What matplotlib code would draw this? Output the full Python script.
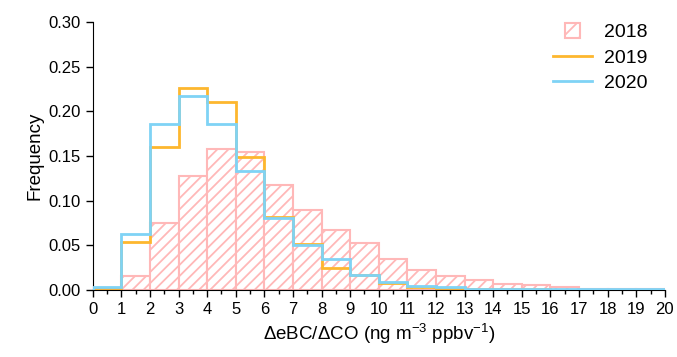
import numpy as np
import matplotlib.pyplot as plt
from matplotlib.patches import Patch, Rectangle
from matplotlib.lines import Line2D
from matplotlib.legend_handler import HandlerPatch

plt.rcParams['font.family'] = ['Liberation Sans', 'DejaVu Sans']
plt.rcParams['mathtext.default'] = 'regular'
plt.rcParams['hatch.linewidth'] = 1.3

# 数据：每个区间的频率
edges = np.arange(0, 21)
freq_2018 = [0.001, 0.016, 0.075, 0.128, 0.158, 0.154, 0.117, 0.089, 0.067, 0.052,
             0.035, 0.022, 0.016, 0.011, 0.007, 0.005, 0.0035, 0.001, 0.0005, 0.0005]
freq_2019 = [0.002, 0.054, 0.160, 0.226, 0.211, 0.149, 0.082, 0.051, 0.025, 0.017,
             0.0075, 0.003, 0.002, 0.001, 0.0005, 0.0005, 0.0003, 0.0002, 0.0002, 0.0002]
freq_2020 = [0.003, 0.063, 0.186, 0.217, 0.186, 0.133, 0.080, 0.050, 0.035, 0.017,
             0.009, 0.004, 0.003, 0.0015, 0.001, 0.001, 0.001, 0.001, 0.001, 0.001]

pink = '#FFB8B8'
orange = '#FDB72E'
blue = '#7FD3F5'


# 图例中 2018 用小方块
def small_square(legend, orig_handle, xdescent, ydescent, width, height, fontsize):
    s = height * 1.1
    return Rectangle((-xdescent + width / 2 - s / 2, -ydescent + height / 2 - s / 2), s, s)


fig, ax = plt.subplots(figsize=(6.77, 3.57), dpi=100)
fig.subplots_adjust(left=0.137, right=0.982, bottom=0.188, top=0.938)

# 2018 斜线柱
ax.bar(edges[:-1], freq_2018, width=1, align='edge', color='white',
       edgecolor=pink, hatch='///', linewidth=1.5, zorder=1)
# 2019 和 2020 阶梯线
ax.stairs(freq_2019, edges, color=orange, linewidth=2, zorder=2)
ax.stairs(freq_2020, edges, color=blue, linewidth=2, zorder=3)

ax.set_xlim(0, 20)
ax.set_ylim(0, 0.30)
ax.set_xticks(np.arange(0, 21, 1))
ax.set_xticks(np.arange(0.5, 20, 1), minor=True)
ax.set_yticks(np.arange(0, 0.31, 0.05))
ax.set_yticklabels([f'{v:.2f}' for v in np.arange(0, 0.31, 0.05)])
ax.tick_params(axis='both', labelsize=12, direction='out', length=5, width=1)
ax.tick_params(axis='x', which='minor', length=3, width=1)
ax.spines['top'].set_visible(False)
ax.spines['right'].set_visible(False)

ax.set_xlabel(r'$\Delta$eBC/$\Delta$CO (ng m$^{-3}$ ppbv$^{-1}$)', fontsize=13.5)
ax.set_ylabel('Frequency', fontsize=13.5)

p2018 = Patch(facecolor='white', edgecolor=pink, hatch='//', linewidth=1.5)
handles = [p2018,
           Line2D([], [], color=orange, linewidth=2),
           Line2D([], [], color=blue, linewidth=2)]
ax.legend(handles, ['2018', '2019', '2020'], loc='upper right', frameon=False,
          fontsize=14, handlelength=2.0, labelspacing=0.4, handletextpad=0.6,
          bbox_to_anchor=(1.0, 1.06),
          handler_map={p2018: HandlerPatch(patch_func=small_square)})

fig.savefig('out.png', dpi=100)
